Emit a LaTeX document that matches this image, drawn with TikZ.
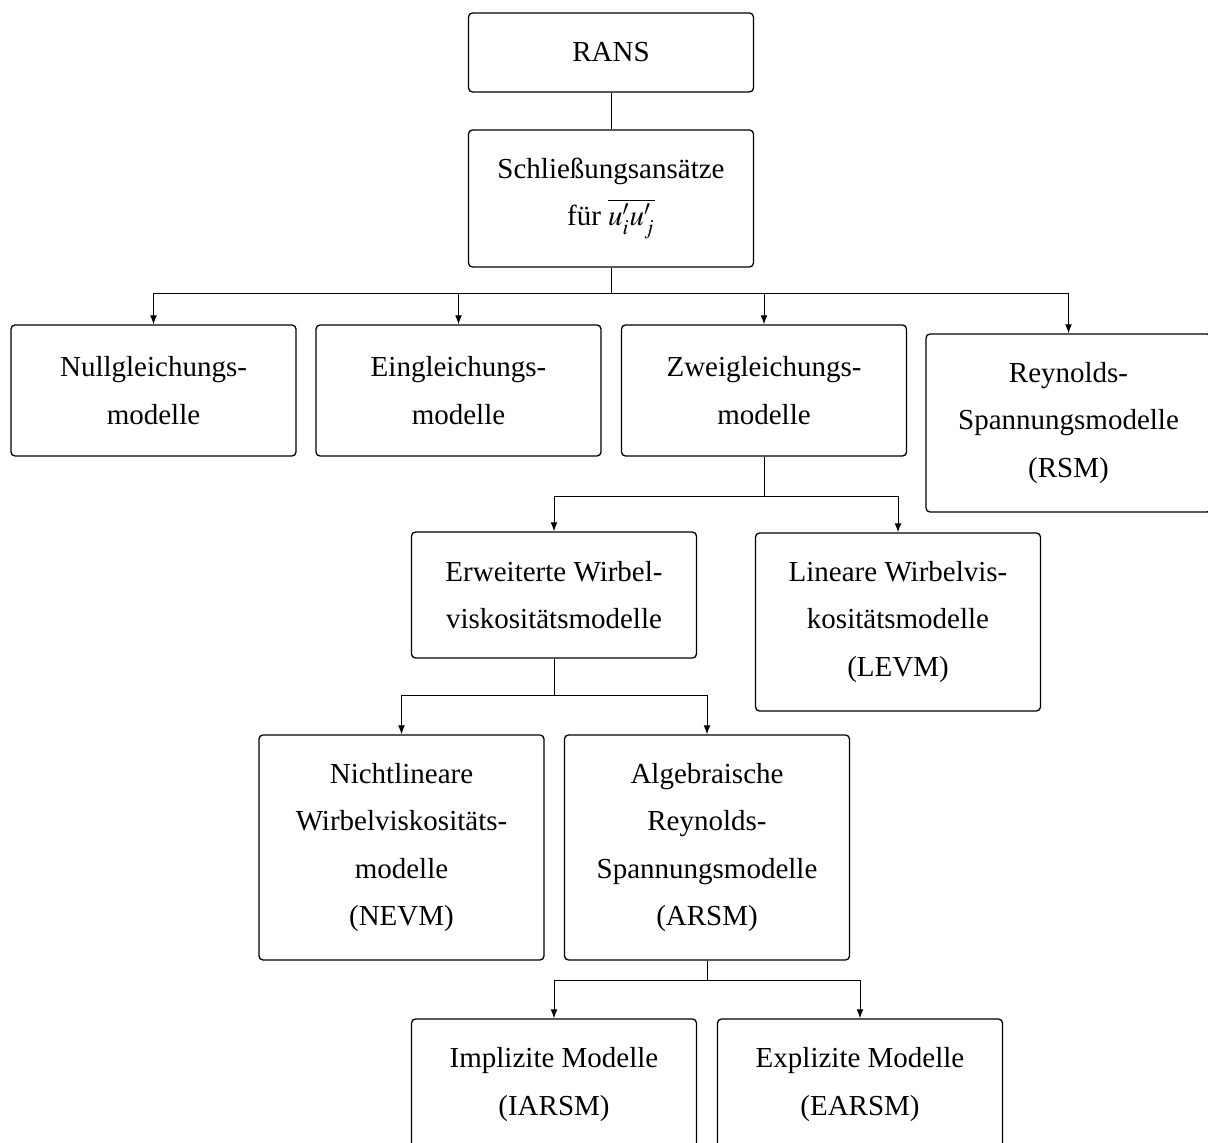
\documentclass[tikz,border=0pt]{standalone}
\usepackage{mathptmx}
\usepackage[no-math]{fontspec}
\setmainfont{Liberation Serif}
\usetikzlibrary{arrows.meta}
\begin{document}
\begin{tikzpicture}[x=0.5pt,y=-0.5pt,
  box/.style={draw, rounded corners=2pt, line width=0.65pt, minimum width=142.5pt,
    align=center, inner sep=0pt, font=\fontsize{14.5}{23.8}\selectfont},
  conn/.style={line width=0.5pt},
  arr/.style={conn, -{Latex[length=4.5pt,width=3.4pt]}}]
\useasboundingbox (0,0) rectangle (1208,1143);

\node[box, minimum height=39.5pt] (rans) at (611,52.5) {RANS};
\node[box, minimum height=68.5pt] (schl) at (611,198.5) {Schließungsansätze\\für $\overline{u'_{i}u'_{j}}$};

\node[box, minimum height=65.5pt] (null) at (153.5,390.5) {Nullgleichungs-\\modelle};
\node[box, minimum height=65.5pt] (ein) at (458.5,390.5) {Eingleichungs-\\modelle};
\node[box, minimum height=65.5pt] (zwei) at (764,390.5) {Zweigleichungs-\\modelle};
\node[box, minimum height=89pt] (rsm) at (1068.5,423) {Reynolds-\\Spannungsmodelle\\(RSM)};

\node[box, minimum height=63pt] (erw) at (554,595) {Erweiterte Wirbel-\\viskositätsmodelle};
\node[box, minimum height=89pt] (lin) at (898,622) {Lineare Wirbelvis-\\kositätsmodelle\\(LEVM)};

\node[box, minimum height=112.5pt] (nevm) at (401.5,847.5) {Nichtlineare\\Wirbelviskositäts-\\modelle\\(NEVM)};
\node[box, minimum height=112.5pt] (arsm) at (707,847.5) {Algebraische\\Reynolds-\\Spannungsmodelle\\(ARSM)};

\node[box, minimum height=65.5pt] (iarsm) at (554,1084.5) {Implizite Modelle\\(IARSM)};
\node[box, minimum height=65.5pt] (earsm) at (860,1084.5) {Explizite Modelle\\(EARSM)};

\coordinate (b1) at (611,294);
\coordinate (b2) at (764,497);
\coordinate (b3) at (554,695);
\coordinate (b4) at (707,980);

\draw[conn] (rans) -- (schl);
\draw[conn] (schl) -- (b1);
\draw[arr] (b1) -| (null);
\draw[arr] (b1) -| (ein);
\draw[arr] (b1) -| (zwei);
\draw[arr] (b1) -| (rsm);

\draw[conn] (zwei) -- (b2);
\draw[arr] (b2) -| (erw);
\draw[arr] (b2) -| (lin);

\draw[conn] (erw) -- (b3);
\draw[arr] (b3) -| (nevm);
\draw[arr] (b3) -| (arsm);

\draw[conn] (arsm) -- (b4);
\draw[arr] (b4) -| (iarsm);
\draw[arr] (b4) -| (earsm);
\end{tikzpicture}
\end{document}
